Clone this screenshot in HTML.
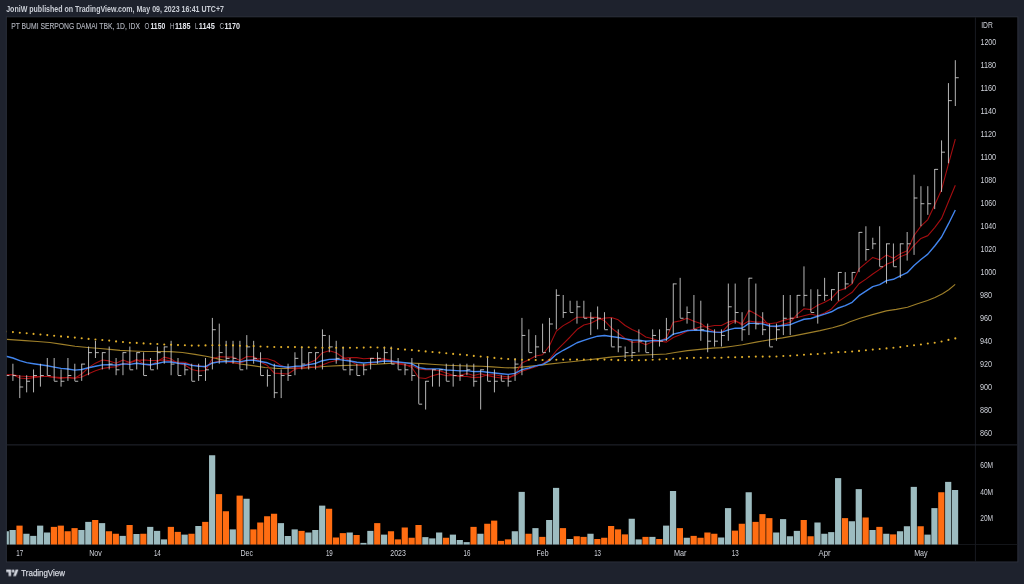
<!DOCTYPE html>
<html lang="en"><head><meta charset="utf-8"><title>BSDE chart</title>
<style>html,body{margin:0;padding:0;background:#1e222d;overflow:hidden}body{width:1024px;height:584px}</style></head>
<body>
<svg width="1024" height="584" viewBox="0 0 1024 584" style="display:block">
<rect width="1024" height="584" fill="#1e222d"/>
<rect x="6.3" y="16.8" width="1011.5500000000001" height="545.1500000000001" fill="#000" stroke="#2b2f3b" stroke-width="1"/>
<g fill="none">
<path d="M975.4 17.3V561.45" stroke="#1e2129" stroke-width="0.8"/>
<path d="M6.8 444.9H1017.35" stroke="#242730" stroke-width="1"/>
<path d="M6.8 544.5H1017.35" stroke="#181a20" stroke-width="0.8"/>
</g>
<defs><clipPath id="cp"><rect x="6.8" y="17.3" width="968.6" height="544.1500000000001"/></clipPath></defs>
<g clip-path="url(#cp)">
<g><rect x="2.67" y="531.25" width="6.2" height="13.25" fill="#9dbcc0"/><rect x="9.55" y="530.00" width="6.2" height="14.50" fill="#9dbcc0"/><rect x="16.43" y="525.62" width="6.2" height="18.88" fill="#ff6d12"/><rect x="23.31" y="533.75" width="6.2" height="10.75" fill="#9dbcc0"/><rect x="30.19" y="535.88" width="6.2" height="8.62" fill="#9dbcc0"/><rect x="37.07" y="525.62" width="6.2" height="18.88" fill="#9dbcc0"/><rect x="43.94" y="532.50" width="6.2" height="12.00" fill="#9dbcc0"/><rect x="50.82" y="526.88" width="6.2" height="17.62" fill="#ff6d12"/><rect x="57.70" y="525.62" width="6.2" height="18.88" fill="#ff6d12"/><rect x="64.58" y="531.25" width="6.2" height="13.25" fill="#ff6d12"/><rect x="71.46" y="528.12" width="6.2" height="16.38" fill="#ff6d12"/><rect x="78.34" y="530.00" width="6.2" height="14.50" fill="#9dbcc0"/><rect x="85.22" y="521.88" width="6.2" height="22.62" fill="#9dbcc0"/><rect x="92.10" y="520.00" width="6.2" height="24.50" fill="#ff6d12"/><rect x="98.98" y="523.12" width="6.2" height="21.38" fill="#9dbcc0"/><rect x="105.86" y="531.25" width="6.2" height="13.25" fill="#ff6d12"/><rect x="112.73" y="533.75" width="6.2" height="10.75" fill="#ff6d12"/><rect x="119.61" y="535.88" width="6.2" height="8.62" fill="#9dbcc0"/><rect x="126.49" y="525.00" width="6.2" height="19.50" fill="#ff6d12"/><rect x="133.37" y="534.00" width="6.2" height="10.50" fill="#9dbcc0"/><rect x="140.25" y="533.75" width="6.2" height="10.75" fill="#ff6d12"/><rect x="147.13" y="526.88" width="6.2" height="17.62" fill="#9dbcc0"/><rect x="154.01" y="530.88" width="6.2" height="13.62" fill="#9dbcc0"/><rect x="160.89" y="539.38" width="6.2" height="5.12" fill="#9dbcc0"/><rect x="167.77" y="526.88" width="6.2" height="17.62" fill="#ff6d12"/><rect x="174.65" y="531.88" width="6.2" height="12.62" fill="#ff6d12"/><rect x="181.53" y="534.62" width="6.2" height="9.88" fill="#9dbcc0"/><rect x="188.40" y="533.75" width="6.2" height="10.75" fill="#ff6d12"/><rect x="195.28" y="526.00" width="6.2" height="18.50" fill="#9dbcc0"/><rect x="202.16" y="521.88" width="6.2" height="22.62" fill="#ff6d12"/><rect x="209.04" y="455.25" width="6.2" height="89.25" fill="#9dbcc0"/><rect x="215.92" y="494.12" width="6.2" height="50.38" fill="#ff6d12"/><rect x="222.80" y="511.25" width="6.2" height="33.25" fill="#ff6d12"/><rect x="229.68" y="529.38" width="6.2" height="15.12" fill="#9dbcc0"/><rect x="236.56" y="495.62" width="6.2" height="48.88" fill="#ff6d12"/><rect x="243.44" y="498.75" width="6.2" height="45.75" fill="#9dbcc0"/><rect x="250.31" y="529.38" width="6.2" height="15.12" fill="#ff6d12"/><rect x="257.19" y="522.50" width="6.2" height="22.00" fill="#ff6d12"/><rect x="264.07" y="516.25" width="6.2" height="28.25" fill="#ff6d12"/><rect x="270.95" y="513.75" width="6.2" height="30.75" fill="#ff6d12"/><rect x="277.83" y="523.12" width="6.2" height="21.38" fill="#9dbcc0"/><rect x="284.71" y="536.00" width="6.2" height="8.50" fill="#9dbcc0"/><rect x="291.59" y="529.38" width="6.2" height="15.12" fill="#9dbcc0"/><rect x="298.47" y="530.88" width="6.2" height="13.62" fill="#ff6d12"/><rect x="305.35" y="532.50" width="6.2" height="12.00" fill="#9dbcc0"/><rect x="312.23" y="530.00" width="6.2" height="14.50" fill="#9dbcc0"/><rect x="319.10" y="505.62" width="6.2" height="38.88" fill="#9dbcc0"/><rect x="325.98" y="508.75" width="6.2" height="35.75" fill="#ff6d12"/><rect x="332.86" y="537.50" width="6.2" height="7.00" fill="#ff6d12"/><rect x="339.74" y="533.12" width="6.2" height="11.38" fill="#ff6d12"/><rect x="346.62" y="532.50" width="6.2" height="12.00" fill="#9dbcc0"/><rect x="353.50" y="535.00" width="6.2" height="9.50" fill="#ff6d12"/><rect x="360.38" y="542.88" width="6.2" height="1.62" fill="#9dbcc0"/><rect x="367.26" y="530.88" width="6.2" height="13.62" fill="#9dbcc0"/><rect x="374.14" y="523.12" width="6.2" height="21.38" fill="#ff6d12"/><rect x="381.02" y="534.62" width="6.2" height="9.88" fill="#9dbcc0"/><rect x="387.89" y="531.25" width="6.2" height="13.25" fill="#ff6d12"/><rect x="394.77" y="539.38" width="6.2" height="5.12" fill="#ff6d12"/><rect x="401.65" y="527.50" width="6.2" height="17.00" fill="#ff6d12"/><rect x="408.53" y="537.75" width="6.2" height="6.75" fill="#ff6d12"/><rect x="415.41" y="525.00" width="6.2" height="19.50" fill="#ff6d12"/><rect x="422.29" y="537.12" width="6.2" height="7.38" fill="#9dbcc0"/><rect x="429.17" y="538.38" width="6.2" height="6.12" fill="#9dbcc0"/><rect x="436.05" y="532.50" width="6.2" height="12.00" fill="#9dbcc0"/><rect x="442.93" y="537.75" width="6.2" height="6.75" fill="#ff6d12"/><rect x="449.81" y="534.62" width="6.2" height="9.88" fill="#9dbcc0"/><rect x="456.68" y="540.00" width="6.2" height="4.50" fill="#9dbcc0"/><rect x="463.56" y="542.12" width="6.2" height="2.38" fill="#9dbcc0"/><rect x="470.44" y="526.88" width="6.2" height="17.62" fill="#ff6d12"/><rect x="477.32" y="533.75" width="6.2" height="10.75" fill="#9dbcc0"/><rect x="484.20" y="523.75" width="6.2" height="20.75" fill="#ff6d12"/><rect x="491.08" y="520.62" width="6.2" height="23.88" fill="#ff6d12"/><rect x="497.96" y="540.88" width="6.2" height="3.62" fill="#ff6d12"/><rect x="504.84" y="539.38" width="6.2" height="5.12" fill="#ff6d12"/><rect x="511.72" y="531.25" width="6.2" height="13.25" fill="#9dbcc0"/><rect x="518.60" y="491.88" width="6.2" height="52.62" fill="#9dbcc0"/><rect x="525.47" y="533.75" width="6.2" height="10.75" fill="#ff6d12"/><rect x="532.35" y="528.12" width="6.2" height="16.38" fill="#9dbcc0"/><rect x="539.23" y="536.88" width="6.2" height="7.62" fill="#ff6d12"/><rect x="546.11" y="520.00" width="6.2" height="24.50" fill="#9dbcc0"/><rect x="552.99" y="487.88" width="6.2" height="56.62" fill="#9dbcc0"/><rect x="559.87" y="528.12" width="6.2" height="16.38" fill="#ff6d12"/><rect x="566.75" y="539.00" width="6.2" height="5.50" fill="#9dbcc0"/><rect x="573.63" y="536.25" width="6.2" height="8.25" fill="#ff6d12"/><rect x="580.51" y="536.88" width="6.2" height="7.62" fill="#ff6d12"/><rect x="587.39" y="533.75" width="6.2" height="10.75" fill="#9dbcc0"/><rect x="594.26" y="539.00" width="6.2" height="5.50" fill="#ff6d12"/><rect x="601.14" y="537.75" width="6.2" height="6.75" fill="#ff6d12"/><rect x="608.02" y="526.00" width="6.2" height="18.50" fill="#ff6d12"/><rect x="614.90" y="529.38" width="6.2" height="15.12" fill="#ff6d12"/><rect x="621.78" y="534.38" width="6.2" height="10.12" fill="#ff6d12"/><rect x="628.66" y="518.75" width="6.2" height="25.75" fill="#9dbcc0"/><rect x="635.54" y="539.38" width="6.2" height="5.12" fill="#9dbcc0"/><rect x="642.42" y="536.88" width="6.2" height="7.62" fill="#ff6d12"/><rect x="649.30" y="536.88" width="6.2" height="7.62" fill="#9dbcc0"/><rect x="656.18" y="539.00" width="6.2" height="5.50" fill="#ff6d12"/><rect x="663.05" y="525.62" width="6.2" height="18.88" fill="#9dbcc0"/><rect x="669.93" y="491.00" width="6.2" height="53.50" fill="#9dbcc0"/><rect x="676.81" y="528.12" width="6.2" height="16.38" fill="#ff6d12"/><rect x="683.69" y="537.75" width="6.2" height="6.75" fill="#9dbcc0"/><rect x="690.57" y="535.88" width="6.2" height="8.62" fill="#ff6d12"/><rect x="697.45" y="537.75" width="6.2" height="6.75" fill="#ff6d12"/><rect x="704.33" y="532.50" width="6.2" height="12.00" fill="#ff6d12"/><rect x="711.21" y="533.75" width="6.2" height="10.75" fill="#ff6d12"/><rect x="718.09" y="537.50" width="6.2" height="7.00" fill="#9dbcc0"/><rect x="724.97" y="508.12" width="6.2" height="36.38" fill="#9dbcc0"/><rect x="731.84" y="530.62" width="6.2" height="13.88" fill="#ff6d12"/><rect x="738.72" y="523.75" width="6.2" height="20.75" fill="#ff6d12"/><rect x="745.60" y="492.25" width="6.2" height="52.25" fill="#9dbcc0"/><rect x="752.48" y="521.88" width="6.2" height="22.62" fill="#ff6d12"/><rect x="759.36" y="514.12" width="6.2" height="30.38" fill="#ff6d12"/><rect x="766.24" y="518.12" width="6.2" height="26.38" fill="#ff6d12"/><rect x="773.12" y="532.50" width="6.2" height="12.00" fill="#9dbcc0"/><rect x="780.00" y="519.12" width="6.2" height="25.38" fill="#9dbcc0"/><rect x="786.88" y="536.25" width="6.2" height="8.25" fill="#9dbcc0"/><rect x="793.76" y="530.88" width="6.2" height="13.62" fill="#9dbcc0"/><rect x="800.63" y="520.00" width="6.2" height="24.50" fill="#ff6d12"/><rect x="807.51" y="536.25" width="6.2" height="8.25" fill="#ff6d12"/><rect x="814.39" y="522.50" width="6.2" height="22.00" fill="#9dbcc0"/><rect x="821.27" y="533.75" width="6.2" height="10.75" fill="#9dbcc0"/><rect x="828.15" y="532.12" width="6.2" height="12.38" fill="#9dbcc0"/><rect x="835.03" y="478.12" width="6.2" height="66.38" fill="#9dbcc0"/><rect x="841.91" y="518.12" width="6.2" height="26.38" fill="#ff6d12"/><rect x="848.79" y="521.25" width="6.2" height="23.25" fill="#9dbcc0"/><rect x="855.67" y="489.12" width="6.2" height="55.38" fill="#9dbcc0"/><rect x="862.55" y="517.50" width="6.2" height="27.00" fill="#ff6d12"/><rect x="869.42" y="530.00" width="6.2" height="14.50" fill="#9dbcc0"/><rect x="876.30" y="526.88" width="6.2" height="17.62" fill="#ff6d12"/><rect x="883.18" y="533.75" width="6.2" height="10.75" fill="#9dbcc0"/><rect x="890.06" y="534.38" width="6.2" height="10.12" fill="#ff6d12"/><rect x="896.94" y="531.25" width="6.2" height="13.25" fill="#9dbcc0"/><rect x="903.82" y="526.25" width="6.2" height="18.25" fill="#9dbcc0"/><rect x="910.70" y="486.88" width="6.2" height="57.62" fill="#9dbcc0"/><rect x="917.58" y="526.25" width="6.2" height="18.25" fill="#ff6d12"/><rect x="924.46" y="534.62" width="6.2" height="9.88" fill="#9dbcc0"/><rect x="931.34" y="508.12" width="6.2" height="36.38" fill="#9dbcc0"/><rect x="938.21" y="492.25" width="6.2" height="52.25" fill="#ff6d12"/><rect x="945.09" y="481.88" width="6.2" height="62.62" fill="#9dbcc0"/><rect x="951.97" y="490.00" width="6.2" height="54.50" fill="#9dbcc0"/></g>
<path d="M6.90 339.40 L25.00 340.60 L37.50 341.50 L50.00 342.50 L62.50 344.40 L75.00 346.25 L87.50 347.50 L100.00 348.50 L112.50 349.60 L120.00 350.40 L132.50 351.00 L145.00 351.50 L157.50 351.50 L170.00 351.60 L182.50 352.50 L195.00 354.40 L207.50 356.50 L220.00 359.40 L232.50 362.25 L240.00 364.00 L252.50 365.60 L265.00 367.50 L277.50 368.50 L290.00 368.50 L302.50 368.10 L315.00 367.25 L327.50 366.25 L340.00 365.60 L352.50 365.30 L362.00 365.00 L372.50 364.50 L385.00 363.60 L397.50 363.00 L410.00 363.00 L422.50 363.60 L435.00 364.50 L447.50 365.25 L460.00 365.75 L472.50 366.10 L482.00 366.30 L492.50 366.90 L505.00 367.75 L513.75 367.90 L523.75 366.90 L536.25 365.60 L548.75 364.10 L561.25 362.75 L573.75 361.50 L586.25 360.00 L598.75 358.60 L612.50 356.90 L625.00 356.00 L637.50 355.25 L650.00 354.75 L666.25 354.00 L675.00 352.50 L687.50 350.60 L700.00 349.40 L712.50 348.10 L722.00 347.60 L732.50 346.25 L742.50 344.75 L757.50 341.90 L770.00 339.75 L782.50 337.90 L795.00 335.60 L807.50 333.10 L820.00 330.60 L832.50 327.75 L842.50 324.90 L850.00 321.80 L860.00 318.30 L872.50 314.60 L886.25 310.90 L896.25 309.40 L907.50 307.25 L917.50 303.75 L927.50 300.60 L935.00 297.50 L942.50 293.75 L948.75 289.75 L955.20 284.40" stroke="#9e7f29" stroke-width="1.1" fill="none" stroke-linejoin="round"/>
<path d="M6.02 374.79 L12.90 374.79 L19.78 375.93 L26.66 376.50 L33.54 376.50 L40.42 376.50 L47.29 376.50 L54.17 377.08 L61.05 377.65 L67.93 377.65 L74.81 378.22 L81.69 377.08 L88.57 373.64 L95.45 370.78 L102.33 368.49 L109.21 367.34 L116.08 366.77 L122.96 363.90 L129.84 362.76 L136.72 360.47 L143.60 359.89 L150.48 360.47 L157.36 360.47 L164.24 359.89 L171.12 361.04 L178.00 362.19 L184.88 362.19 L191.75 365.05 L198.63 365.62 L205.51 367.34 L212.39 362.76 L219.27 361.04 L226.15 361.61 L233.03 362.76 L239.91 363.33 L246.79 360.47 L253.66 359.32 L260.54 358.75 L267.42 358.75 L274.30 361.04 L281.18 365.62 L288.06 367.91 L294.94 367.91 L301.82 368.49 L308.70 366.77 L315.58 367.34 L322.45 365.05 L329.33 362.19 L336.21 360.47 L343.09 358.18 L349.97 357.60 L356.85 357.60 L363.73 358.75 L370.61 358.18 L377.49 358.75 L384.37 358.75 L391.24 361.61 L398.12 363.90 L405.00 365.05 L411.88 365.62 L418.76 369.06 L425.64 369.63 L432.52 369.63 L439.40 370.78 L446.28 373.07 L453.16 375.36 L460.03 376.50 L466.91 376.50 L473.79 377.65 L480.67 377.08 L487.55 374.79 L494.43 374.79 L501.31 375.93 L508.19 377.08 L515.07 375.36 L521.95 371.35 L528.82 369.06 L535.70 366.77 L542.58 363.90 L549.46 359.32 L556.34 350.73 L563.22 343.86 L570.10 336.99 L576.98 329.54 L583.86 324.96 L590.74 323.24 L597.61 319.81 L604.49 318.09 L611.37 317.51 L618.25 319.81 L625.13 325.53 L632.01 329.54 L638.89 332.41 L645.77 336.99 L652.65 338.70 L659.53 341.00 L666.40 342.14 L673.28 337.56 L680.16 334.70 L687.04 331.26 L693.92 328.97 L700.80 326.68 L707.68 326.68 L714.56 325.53 L721.44 325.53 L728.32 322.10 L735.19 320.38 L742.07 324.96 L748.95 320.95 L755.83 322.10 L762.71 322.10 L769.59 323.81 L776.47 322.67 L783.35 320.38 L790.23 318.66 L797.11 317.51 L803.98 315.80 L810.86 314.08 L817.74 315.80 L824.62 312.93 L831.50 308.92 L838.38 301.48 L845.26 296.90 L852.14 292.32 L859.02 283.73 L865.90 279.14 L872.77 273.99 L879.65 269.41 L886.53 264.25 L893.41 261.39 L900.29 256.81 L907.17 253.95 L914.05 245.35 L920.93 238.48 L927.81 235.62 L934.69 227.60 L941.56 218.44 L948.44 201.83 L955.32 185.22" stroke="#a40d10" stroke-width="1.1" fill="none" stroke-linejoin="round"/>
<path d="M6.02 374.79 L12.90 374.79 L19.78 378.06 L26.66 378.76 L33.54 377.62 L40.42 376.81 L47.29 376.23 L54.17 377.46 L61.05 378.33 L67.93 377.32 L74.81 378.23 L81.69 373.97 L88.57 367.66 L95.45 363.15 L102.33 359.93 L109.21 360.90 L116.08 363.23 L122.96 359.99 L129.84 362.58 L136.72 359.52 L143.60 363.88 L150.48 365.36 L157.36 361.51 L164.24 357.12 L171.12 358.89 L178.00 363.43 L184.88 365.04 L191.75 369.46 L198.63 370.98 L205.51 370.43 L212.39 358.59 L219.27 356.67 L226.15 356.94 L233.03 357.13 L239.91 360.54 L246.79 356.43 L253.66 356.76 L260.54 361.91 L267.42 365.59 L274.30 373.13 L281.18 373.60 L288.06 373.94 L294.94 369.27 L301.82 367.57 L308.70 363.09 L315.58 359.89 L322.45 352.69 L329.33 350.82 L336.21 352.76 L343.09 357.42 L349.97 360.74 L356.85 364.75 L363.73 365.98 L370.61 363.59 L377.49 361.88 L384.37 359.02 L391.24 360.25 L398.12 362.77 L405.00 364.57 L411.88 367.49 L418.76 377.75 L425.64 378.54 L432.52 375.83 L439.40 373.90 L446.28 375.79 L453.16 375.50 L460.03 375.30 L466.91 373.51 L473.79 375.51 L480.67 373.67 L487.55 375.62 L494.43 377.02 L501.31 378.02 L508.19 378.73 L515.07 374.33 L521.95 363.01 L528.82 359.83 L535.70 355.92 L542.58 354.76 L549.46 345.76 L556.34 331.14 L563.22 325.61 L570.10 321.66 L576.98 317.21 L583.86 317.29 L590.74 317.36 L597.61 317.40 L604.49 320.71 L611.37 327.98 L618.25 333.17 L625.13 338.51 L632.01 342.33 L638.89 341.79 L645.77 344.67 L652.65 341.82 L659.53 341.42 L666.40 337.86 L673.28 322.23 L680.16 320.88 L687.04 318.29 L693.92 321.34 L700.80 323.52 L707.68 328.35 L714.56 331.80 L721.44 332.63 L728.32 325.04 L735.19 321.25 L742.07 323.46 L748.95 310.30 L755.83 314.00 L762.71 318.28 L769.59 326.24 L776.47 327.02 L783.35 324.30 L790.23 322.36 L797.11 314.43 L803.98 308.77 L810.86 309.63 L817.74 305.34 L824.62 302.27 L831.50 298.45 L838.38 290.80 L845.26 288.62 L852.14 283.78 L859.02 268.88 L865.90 263.14 L872.77 257.40 L879.65 259.85 L886.53 255.05 L893.41 258.17 L900.29 253.86 L907.17 250.77 L914.05 235.48 L920.93 226.19 L927.81 219.56 L934.69 205.00 L941.56 189.70 L948.44 164.04 L955.32 139.16" stroke="#a40d10" stroke-width="1.1" fill="none" stroke-linejoin="round"/>
<path d="M6.02 356.23 L12.90 358.00 L19.78 360.69 L26.66 362.57 L33.54 363.74 L40.42 364.79 L47.29 365.74 L54.17 367.15 L61.05 368.42 L67.93 369.03 L74.81 370.12 L81.69 369.47 L88.57 367.80 L95.45 366.28 L102.33 364.91 L109.21 364.76 L116.08 365.17 L122.96 363.90 L129.84 364.39 L136.72 363.20 L143.60 364.31 L150.48 364.76 L157.36 363.53 L164.24 361.88 L171.12 362.01 L178.00 363.23 L184.88 363.79 L191.75 365.38 L198.63 366.27 L205.51 366.54 L212.39 362.96 L219.27 361.91 L226.15 361.50 L233.03 361.13 L239.91 361.88 L246.79 360.38 L253.66 360.12 L260.54 361.51 L267.42 362.78 L274.30 365.56 L281.18 366.44 L288.06 367.23 L294.94 366.32 L301.82 366.03 L308.70 364.68 L315.58 363.46 L322.45 360.72 L329.33 359.34 L336.21 359.17 L343.09 360.11 L349.97 360.96 L356.85 362.28 L363.73 362.93 L370.61 362.42 L377.49 361.96 L384.37 361.00 L391.24 361.22 L398.12 361.97 L405.00 362.64 L411.88 363.80 L418.76 367.57 L425.64 368.81 L432.52 368.83 L439.40 368.85 L446.28 369.96 L453.16 370.42 L460.03 370.84 L466.91 370.67 L473.79 371.61 L480.67 371.36 L487.55 372.23 L494.43 373.02 L501.31 373.74 L508.19 374.38 L515.07 373.33 L521.95 369.65 L528.82 367.96 L535.70 365.88 L542.58 364.55 L549.46 360.61 L556.34 354.33 L563.22 350.27 L570.10 346.61 L576.98 342.75 L583.86 340.34 L590.74 338.17 L597.61 336.20 L604.49 335.51 L611.37 336.53 L618.25 337.44 L625.13 338.82 L632.01 340.06 L638.89 340.10 L645.77 341.22 L652.65 340.60 L659.53 340.58 L666.40 339.47 L673.28 334.11 L680.16 332.53 L687.04 330.55 L693.92 330.40 L700.80 330.27 L707.68 331.23 L714.56 332.11 L721.44 332.36 L728.32 329.85 L735.19 328.13 L742.07 328.21 L748.95 323.37 L755.83 323.36 L762.71 323.90 L769.59 326.02 L776.47 326.30 L783.35 325.46 L790.23 324.70 L797.11 321.84 L803.98 319.24 L810.86 318.53 L817.74 316.25 L824.62 314.19 L831.50 311.78 L838.38 307.97 L845.26 305.60 L852.14 302.37 L859.02 295.63 L865.90 291.17 L872.77 286.59 L879.65 284.63 L886.53 280.67 L893.41 279.27 L900.29 275.82 L907.17 272.70 L914.05 265.52 L920.93 259.56 L927.81 254.17 L934.69 246.02 L941.56 237.01 L948.44 223.95 L955.32 209.96" stroke="#4285ee" stroke-width="1.4" fill="none" stroke-linejoin="round"/>
<path d="M6.02 375.54h3.4M12.90 363.73V380.91M12.90 375.54h3.4M19.78 375.19V398.09M19.78 386.99h3.4M26.66 375.19V392.37M26.66 381.26h3.4M33.54 369.46V392.37M33.54 375.54h3.4M40.42 363.73V386.64M40.42 375.54h3.4M47.29 358.00V375.19M47.29 375.54h3.4M54.17 358.00V380.91M54.17 381.26h3.4M61.05 369.46V386.64M61.05 381.26h3.4M67.93 358.00V380.91M67.93 375.54h3.4M74.81 363.73V380.91M74.81 381.26h3.4M81.69 363.73V380.91M81.69 364.08h3.4M88.57 346.55V375.19M88.57 352.63h3.4M95.45 340.82V358.00M95.45 352.63h3.4M102.33 352.28V369.46M102.33 352.63h3.4M109.21 346.55V369.46M109.21 364.08h3.4M116.08 358.00V375.19M116.08 369.81h3.4M122.96 352.28V375.19M122.96 352.63h3.4M129.84 346.55V369.46M129.84 369.81h3.4M136.72 352.28V369.46M136.72 352.63h3.4M143.60 352.28V375.19M143.60 375.54h3.4M150.48 358.00V369.46M150.48 369.81h3.4M157.36 346.55V369.46M157.36 352.63h3.4M164.24 346.55V363.73M164.24 346.90h3.4M171.12 340.82V375.19M171.12 364.08h3.4M178.00 358.00V375.19M178.00 375.54h3.4M184.88 363.73V375.19M184.88 369.81h3.4M191.75 363.73V380.91M191.75 381.26h3.4M198.63 363.73V380.91M198.63 375.54h3.4M205.51 358.00V380.91M205.51 369.81h3.4M212.39 317.91V369.46M212.39 329.72h3.4M219.27 323.64V363.73M219.27 352.63h3.4M226.15 340.82V363.73M226.15 358.35h3.4M233.03 340.82V363.73M233.03 358.35h3.4M239.91 340.82V369.46M239.91 369.81h3.4M246.79 335.10V369.46M246.79 346.90h3.4M253.66 340.82V363.73M253.66 358.35h3.4M260.54 352.28V375.19M260.54 375.54h3.4M267.42 369.46V386.64M267.42 375.54h3.4M274.30 363.73V398.09M274.30 392.72h3.4M281.18 369.46V398.09M281.18 375.54h3.4M288.06 363.73V380.91M288.06 375.54h3.4M294.94 352.28V375.19M294.94 358.35h3.4M301.82 346.55V369.46M301.82 364.08h3.4M308.70 352.28V369.46M308.70 352.63h3.4M315.58 352.28V369.46M315.58 352.63h3.4M322.45 329.37V369.46M322.45 335.45h3.4M329.33 335.10V352.28M329.33 346.90h3.4M336.21 340.82V363.73M336.21 358.35h3.4M343.09 346.55V369.46M343.09 369.81h3.4M349.97 358.00V375.19M349.97 369.81h3.4M356.85 363.73V375.19M356.85 375.54h3.4M363.73 363.73V375.19M363.73 369.81h3.4M370.61 358.00V369.46M370.61 358.35h3.4M377.49 352.28V363.73M377.49 358.35h3.4M384.37 346.55V363.73M384.37 352.63h3.4M391.24 346.55V363.73M391.24 364.08h3.4M398.12 358.00V369.46M398.12 369.81h3.4M405.00 363.73V375.19M405.00 369.81h3.4M411.88 358.00V380.91M411.88 375.54h3.4M418.76 363.73V403.82M418.76 404.17h3.4M425.64 380.91V409.55M425.64 381.26h3.4M432.52 369.46V386.64M432.52 369.81h3.4M439.40 369.46V386.64M439.40 369.81h3.4M446.28 363.73V380.91M446.28 381.26h3.4M453.16 363.73V386.64M453.16 375.54h3.4M460.03 363.73V380.91M460.03 375.54h3.4M466.91 363.73V375.19M466.91 369.81h3.4M473.79 363.73V386.64M473.79 381.26h3.4M480.67 369.46V409.55M480.67 369.81h3.4M487.55 358.00V380.91M487.55 381.26h3.4M494.43 369.46V392.37M494.43 381.26h3.4M501.31 375.19V380.91M501.31 381.26h3.4M508.19 375.19V386.64M508.19 381.26h3.4M515.07 358.00V380.91M515.07 364.08h3.4M521.95 317.91V375.19M521.95 335.45h3.4M528.82 329.37V352.28M528.82 352.63h3.4M535.70 335.10V358.00M535.70 346.90h3.4M542.58 323.64V352.28M542.58 352.63h3.4M549.46 317.91V352.28M549.46 323.99h3.4M556.34 289.28V329.37M556.34 295.36h3.4M563.22 295.01V317.91M563.22 312.54h3.4M570.10 300.73V312.19M570.10 312.54h3.4M576.98 300.73V323.64M576.98 306.81h3.4M583.86 300.73V317.91M583.86 318.26h3.4M590.74 312.19V335.10M590.74 318.26h3.4M597.61 306.46V329.37M597.61 318.26h3.4M604.49 312.19V329.37M604.49 329.72h3.4M611.37 317.91V346.55M611.37 346.90h3.4M618.25 329.37V352.28M618.25 346.90h3.4M625.13 346.55V358.00M625.13 352.63h3.4M632.01 340.82V358.00M632.01 352.63h3.4M638.89 329.37V352.28M638.89 341.17h3.4M645.77 340.82V352.28M645.77 352.63h3.4M652.65 329.37V358.00M652.65 335.45h3.4M659.53 329.37V346.55M659.53 341.17h3.4M666.40 317.91V340.82M666.40 329.72h3.4M673.28 283.55V335.10M673.28 283.90h3.4M680.16 277.83V317.91M680.16 318.26h3.4M687.04 306.46V323.64M687.04 312.54h3.4M693.92 295.01V329.37M693.92 329.72h3.4M700.80 300.73V340.82M700.80 329.72h3.4M707.68 323.64V352.28M707.68 341.17h3.4M714.56 329.37V346.55M714.56 341.17h3.4M721.44 329.37V346.55M721.44 335.45h3.4M728.32 283.55V340.82M728.32 306.81h3.4M735.19 283.55V323.64M735.19 312.54h3.4M742.07 312.19V340.82M742.07 329.72h3.4M748.95 277.83V335.10M748.95 278.18h3.4M755.83 283.55V329.37M755.83 323.99h3.4M762.71 312.19V335.10M762.71 329.72h3.4M769.59 323.64V346.55M769.59 346.90h3.4M776.47 323.64V340.82M776.47 329.72h3.4M783.35 295.01V335.10M783.35 318.26h3.4M790.23 295.01V335.10M790.23 318.26h3.4M797.11 295.01V317.91M797.11 295.36h3.4M803.98 266.37V306.46M803.98 295.36h3.4M810.86 289.28V312.19M810.86 312.54h3.4M817.74 289.28V323.64M817.74 295.36h3.4M824.62 277.83V300.73M824.62 295.36h3.4M831.50 289.28V300.73M831.50 289.63h3.4M838.38 272.10V300.73M838.38 272.45h3.4M845.26 272.10V289.28M845.26 283.90h3.4M852.14 272.10V283.55M852.14 272.45h3.4M859.02 232.01V272.10M859.02 232.36h3.4M865.90 226.28V260.64M865.90 249.54h3.4M872.77 237.74V249.19M872.77 243.81h3.4M879.65 226.28V266.37M879.65 266.72h3.4M886.53 243.46V283.55M886.53 243.81h3.4M893.41 243.46V266.37M893.41 266.72h3.4M900.29 243.46V277.83M900.29 243.81h3.4M907.17 232.01V260.64M907.17 243.81h3.4M914.05 174.74V254.92M914.05 198.00h3.4M920.93 186.19V226.28M920.93 203.72h3.4M927.81 186.19V214.83M927.81 203.72h3.4M934.69 169.01V209.10M934.69 169.36h3.4M941.56 140.38V191.92M941.56 152.18h3.4M948.44 83.11V163.29M948.44 100.64h3.4M955.32 60.20V106.02M955.32 77.73h3.4" stroke="#d6d6d6" stroke-width="0.85" fill="none"/>
<g fill="#e3b02b"><circle cx="6.02" cy="331.50" r="1.05"/><circle cx="12.90" cy="332.10" r="1.05"/><circle cx="19.78" cy="332.75" r="1.05"/><circle cx="26.66" cy="333.25" r="1.05"/><circle cx="33.54" cy="333.90" r="1.05"/><circle cx="40.42" cy="334.50" r="1.05"/><circle cx="47.29" cy="335.10" r="1.05"/><circle cx="54.17" cy="335.75" r="1.05"/><circle cx="61.05" cy="336.40" r="1.05"/><circle cx="67.93" cy="336.90" r="1.05"/><circle cx="74.81" cy="337.60" r="1.05"/><circle cx="81.69" cy="338.25" r="1.05"/><circle cx="88.57" cy="338.90" r="1.05"/><circle cx="95.45" cy="339.50" r="1.05"/><circle cx="102.33" cy="340.00" r="1.05"/><circle cx="109.21" cy="340.60" r="1.05"/><circle cx="116.08" cy="341.40" r="1.05"/><circle cx="122.96" cy="342.05" r="1.05"/><circle cx="129.84" cy="342.75" r="1.05"/><circle cx="136.72" cy="342.90" r="1.05"/><circle cx="143.60" cy="343.40" r="1.05"/><circle cx="150.48" cy="343.75" r="1.05"/><circle cx="157.36" cy="344.00" r="1.05"/><circle cx="164.24" cy="344.50" r="1.05"/><circle cx="171.12" cy="344.75" r="1.05"/><circle cx="178.00" cy="345.10" r="1.05"/><circle cx="184.88" cy="345.25" r="1.05"/><circle cx="191.75" cy="345.60" r="1.05"/><circle cx="198.63" cy="345.60" r="1.05"/><circle cx="205.51" cy="345.40" r="1.05"/><circle cx="212.39" cy="345.30" r="1.05"/><circle cx="219.27" cy="345.30" r="1.05"/><circle cx="226.15" cy="345.30" r="1.05"/><circle cx="233.03" cy="345.40" r="1.05"/><circle cx="239.91" cy="345.70" r="1.05"/><circle cx="246.79" cy="345.95" r="1.05"/><circle cx="253.66" cy="346.10" r="1.05"/><circle cx="260.54" cy="346.50" r="1.05"/><circle cx="267.42" cy="346.70" r="1.05"/><circle cx="274.30" cy="347.00" r="1.05"/><circle cx="281.18" cy="347.10" r="1.05"/><circle cx="288.06" cy="347.10" r="1.05"/><circle cx="294.94" cy="347.10" r="1.05"/><circle cx="301.82" cy="347.20" r="1.05"/><circle cx="308.70" cy="347.30" r="1.05"/><circle cx="315.58" cy="347.60" r="1.05"/><circle cx="322.45" cy="347.75" r="1.05"/><circle cx="329.33" cy="347.75" r="1.05"/><circle cx="336.21" cy="347.75" r="1.05"/><circle cx="343.09" cy="347.75" r="1.05"/><circle cx="349.97" cy="347.75" r="1.05"/><circle cx="356.85" cy="347.70" r="1.05"/><circle cx="363.73" cy="347.60" r="1.05"/><circle cx="370.61" cy="347.30" r="1.05"/><circle cx="377.49" cy="347.50" r="1.05"/><circle cx="384.37" cy="347.70" r="1.05"/><circle cx="391.24" cy="348.25" r="1.05"/><circle cx="398.12" cy="349.00" r="1.05"/><circle cx="405.00" cy="349.60" r="1.05"/><circle cx="411.88" cy="350.10" r="1.05"/><circle cx="418.76" cy="350.75" r="1.05"/><circle cx="425.64" cy="351.40" r="1.05"/><circle cx="432.52" cy="352.00" r="1.05"/><circle cx="439.40" cy="352.60" r="1.05"/><circle cx="446.28" cy="353.25" r="1.05"/><circle cx="453.16" cy="353.90" r="1.05"/><circle cx="460.03" cy="354.50" r="1.05"/><circle cx="466.91" cy="355.10" r="1.05"/><circle cx="473.79" cy="355.90" r="1.05"/><circle cx="480.67" cy="356.50" r="1.05"/><circle cx="487.55" cy="357.10" r="1.05"/><circle cx="494.43" cy="357.90" r="1.05"/><circle cx="501.31" cy="358.50" r="1.05"/><circle cx="508.19" cy="359.00" r="1.05"/><circle cx="515.07" cy="359.50" r="1.05"/><circle cx="521.95" cy="359.70" r="1.05"/><circle cx="528.82" cy="359.80" r="1.05"/><circle cx="535.70" cy="360.00" r="1.05"/><circle cx="542.58" cy="360.00" r="1.05"/><circle cx="549.46" cy="359.90" r="1.05"/><circle cx="556.34" cy="359.70" r="1.05"/><circle cx="563.22" cy="359.60" r="1.05"/><circle cx="570.10" cy="359.60" r="1.05"/><circle cx="576.98" cy="359.60" r="1.05"/><circle cx="583.86" cy="359.60" r="1.05"/><circle cx="590.74" cy="359.60" r="1.05"/><circle cx="597.61" cy="359.60" r="1.05"/><circle cx="604.49" cy="359.60" r="1.05"/><circle cx="611.37" cy="359.80" r="1.05"/><circle cx="618.25" cy="360.15" r="1.05"/><circle cx="625.13" cy="360.25" r="1.05"/><circle cx="632.01" cy="360.25" r="1.05"/><circle cx="638.89" cy="360.25" r="1.05"/><circle cx="645.77" cy="360.10" r="1.05"/><circle cx="652.65" cy="359.70" r="1.05"/><circle cx="659.53" cy="359.50" r="1.05"/><circle cx="666.40" cy="359.00" r="1.05"/><circle cx="673.28" cy="358.75" r="1.05"/><circle cx="680.16" cy="358.40" r="1.05"/><circle cx="687.04" cy="358.10" r="1.05"/><circle cx="693.92" cy="357.85" r="1.05"/><circle cx="700.80" cy="357.75" r="1.05"/><circle cx="707.68" cy="357.75" r="1.05"/><circle cx="714.56" cy="357.75" r="1.05"/><circle cx="721.44" cy="357.70" r="1.05"/><circle cx="728.32" cy="357.30" r="1.05"/><circle cx="735.19" cy="357.25" r="1.05"/><circle cx="742.07" cy="357.10" r="1.05"/><circle cx="748.95" cy="356.70" r="1.05"/><circle cx="755.83" cy="356.60" r="1.05"/><circle cx="762.71" cy="356.60" r="1.05"/><circle cx="769.59" cy="356.60" r="1.05"/><circle cx="776.47" cy="356.50" r="1.05"/><circle cx="783.35" cy="356.00" r="1.05"/><circle cx="790.23" cy="355.80" r="1.05"/><circle cx="797.11" cy="355.25" r="1.05"/><circle cx="803.98" cy="354.75" r="1.05"/><circle cx="810.86" cy="354.20" r="1.05"/><circle cx="817.74" cy="354.00" r="1.05"/><circle cx="824.62" cy="353.50" r="1.05"/><circle cx="831.50" cy="352.80" r="1.05"/><circle cx="838.38" cy="352.15" r="1.05"/><circle cx="845.26" cy="352.00" r="1.05"/><circle cx="852.14" cy="351.50" r="1.05"/><circle cx="859.02" cy="350.90" r="1.05"/><circle cx="865.90" cy="350.25" r="1.05"/><circle cx="872.77" cy="349.60" r="1.05"/><circle cx="879.65" cy="349.00" r="1.05"/><circle cx="886.53" cy="348.40" r="1.05"/><circle cx="893.41" cy="347.75" r="1.05"/><circle cx="900.29" cy="347.10" r="1.05"/><circle cx="907.17" cy="346.00" r="1.05"/><circle cx="914.05" cy="345.25" r="1.05"/><circle cx="920.93" cy="344.50" r="1.05"/><circle cx="927.81" cy="343.50" r="1.05"/><circle cx="934.69" cy="342.70" r="1.05"/><circle cx="941.56" cy="341.50" r="1.05"/><circle cx="948.44" cy="339.90" r="1.05"/><circle cx="955.32" cy="338.40" r="1.05"/></g>
</g>
<g font-family="'Liberation Sans', Arial, sans-serif" style="will-change:opacity;opacity:0.999">
<text x="6.2" y="12.15" font-size="8.3" font-weight="bold" fill="#ccd0d8" text-anchor="start" textLength="217.8" lengthAdjust="spacingAndGlyphs">JoniW published on TradingView.com, May 09, 2023 16:41 UTC+7</text>
<text stroke="#b4b7c0" stroke-width="0.12" x="11.2" y="28.8" font-size="8.6" font-weight="normal" fill="#b4b7c0" text-anchor="start" textLength="128.8" lengthAdjust="spacingAndGlyphs">PT BUMI SERPONG DAMAI TBK, 1D, IDX</text>
<text x="144.5" y="28.8" font-size="8.6" font-weight="normal" fill="#b4b7c0" text-anchor="start" textLength="4.8" lengthAdjust="spacingAndGlyphs">O</text>
<text x="150.4" y="28.8" font-size="8.6" font-weight="bold" fill="#e4e6ec" text-anchor="start" textLength="14.9" lengthAdjust="spacingAndGlyphs">1150</text>
<text x="170" y="28.8" font-size="8.6" font-weight="normal" fill="#b4b7c0" text-anchor="start" textLength="4.5" lengthAdjust="spacingAndGlyphs">H</text>
<text x="175" y="28.8" font-size="8.6" font-weight="bold" fill="#e4e6ec" text-anchor="start" textLength="15.6" lengthAdjust="spacingAndGlyphs">1185</text>
<text x="195" y="28.8" font-size="8.6" font-weight="normal" fill="#b4b7c0" text-anchor="start" textLength="3.3" lengthAdjust="spacingAndGlyphs">L</text>
<text x="198.75" y="28.8" font-size="8.6" font-weight="bold" fill="#e4e6ec" text-anchor="start" textLength="16" lengthAdjust="spacingAndGlyphs">1145</text>
<text x="219.4" y="28.8" font-size="8.6" font-weight="normal" fill="#b4b7c0" text-anchor="start" textLength="4.6" lengthAdjust="spacingAndGlyphs">C</text>
<text x="224.4" y="28.8" font-size="8.6" font-weight="bold" fill="#e4e6ec" text-anchor="start" textLength="15.6" lengthAdjust="spacingAndGlyphs">1170</text>
<text x="981.2" y="28.1" font-size="8.6" font-weight="normal" fill="#d0d3db" text-anchor="start" textLength="11.6" lengthAdjust="spacingAndGlyphs">IDR</text>
<text x="979.9" y="436.1" font-size="8.6" font-weight="normal" fill="#d0d3db" text-anchor="start" textLength="12.1" lengthAdjust="spacingAndGlyphs">860</text>
<text x="979.9" y="413.1" font-size="8.6" font-weight="normal" fill="#d0d3db" text-anchor="start" textLength="12.1" lengthAdjust="spacingAndGlyphs">880</text>
<text x="979.9" y="390.1" font-size="8.6" font-weight="normal" fill="#d0d3db" text-anchor="start" textLength="12.1" lengthAdjust="spacingAndGlyphs">900</text>
<text x="979.9" y="367.1" font-size="8.6" font-weight="normal" fill="#d0d3db" text-anchor="start" textLength="12.1" lengthAdjust="spacingAndGlyphs">920</text>
<text x="979.9" y="344.1" font-size="8.6" font-weight="normal" fill="#d0d3db" text-anchor="start" textLength="12.1" lengthAdjust="spacingAndGlyphs">940</text>
<text x="979.9" y="321.1" font-size="8.6" font-weight="normal" fill="#d0d3db" text-anchor="start" textLength="12.1" lengthAdjust="spacingAndGlyphs">960</text>
<text x="979.9" y="298.1" font-size="8.6" font-weight="normal" fill="#d0d3db" text-anchor="start" textLength="12.1" lengthAdjust="spacingAndGlyphs">980</text>
<text x="980.5" y="275.1" font-size="8.6" font-weight="normal" fill="#d0d3db" text-anchor="start" textLength="15.6" lengthAdjust="spacingAndGlyphs">1000</text>
<text x="980.5" y="252.1" font-size="8.6" font-weight="normal" fill="#d0d3db" text-anchor="start" textLength="15.6" lengthAdjust="spacingAndGlyphs">1020</text>
<text x="980.5" y="229.1" font-size="8.6" font-weight="normal" fill="#d0d3db" text-anchor="start" textLength="15.6" lengthAdjust="spacingAndGlyphs">1040</text>
<text x="980.5" y="206.1" font-size="8.6" font-weight="normal" fill="#d0d3db" text-anchor="start" textLength="15.6" lengthAdjust="spacingAndGlyphs">1060</text>
<text x="980.5" y="183.1" font-size="8.6" font-weight="normal" fill="#d0d3db" text-anchor="start" textLength="15.6" lengthAdjust="spacingAndGlyphs">1080</text>
<text x="980.5" y="160.1" font-size="8.6" font-weight="normal" fill="#d0d3db" text-anchor="start" textLength="15.6" lengthAdjust="spacingAndGlyphs">1100</text>
<text x="980.5" y="137.1" font-size="8.6" font-weight="normal" fill="#d0d3db" text-anchor="start" textLength="15.6" lengthAdjust="spacingAndGlyphs">1120</text>
<text x="980.5" y="114.1" font-size="8.6" font-weight="normal" fill="#d0d3db" text-anchor="start" textLength="15.6" lengthAdjust="spacingAndGlyphs">1140</text>
<text x="980.5" y="91.1" font-size="8.6" font-weight="normal" fill="#d0d3db" text-anchor="start" textLength="15.6" lengthAdjust="spacingAndGlyphs">1160</text>
<text x="980.5" y="68.1" font-size="8.6" font-weight="normal" fill="#d0d3db" text-anchor="start" textLength="15.6" lengthAdjust="spacingAndGlyphs">1180</text>
<text x="980.5" y="45.1" font-size="8.6" font-weight="normal" fill="#d0d3db" text-anchor="start" textLength="15.6" lengthAdjust="spacingAndGlyphs">1200</text>
<text x="980.2" y="468.2" font-size="8.6" font-weight="normal" fill="#d0d3db" text-anchor="start" textLength="12.9" lengthAdjust="spacingAndGlyphs">60M</text>
<text x="980.2" y="494.9" font-size="8.6" font-weight="normal" fill="#d0d3db" text-anchor="start" textLength="12.9" lengthAdjust="spacingAndGlyphs">40M</text>
<text x="980.2" y="521.1" font-size="8.6" font-weight="normal" fill="#d0d3db" text-anchor="start" textLength="12.9" lengthAdjust="spacingAndGlyphs">20M</text>
<text x="16.33" y="556.0" font-size="8.4" font-weight="normal" fill="#d0d3db" text-anchor="start" textLength="6.9" lengthAdjust="spacingAndGlyphs">17</text>
<text x="89.20" y="556.0" font-size="8.4" font-weight="normal" fill="#d0d3db" text-anchor="start" textLength="12.5" lengthAdjust="spacingAndGlyphs">Nov</text>
<text x="153.91" y="556.0" font-size="8.4" font-weight="normal" fill="#d0d3db" text-anchor="start" textLength="6.9" lengthAdjust="spacingAndGlyphs">14</text>
<text x="240.54" y="556.0" font-size="8.4" font-weight="normal" fill="#d0d3db" text-anchor="start" textLength="12.5" lengthAdjust="spacingAndGlyphs">Dec</text>
<text x="325.88" y="556.0" font-size="8.4" font-weight="normal" fill="#d0d3db" text-anchor="start" textLength="6.9" lengthAdjust="spacingAndGlyphs">19</text>
<text x="390.37" y="556.0" font-size="8.4" font-weight="normal" fill="#d0d3db" text-anchor="start" textLength="15.5" lengthAdjust="spacingAndGlyphs">2023</text>
<text x="463.46" y="556.0" font-size="8.4" font-weight="normal" fill="#d0d3db" text-anchor="start" textLength="6.9" lengthAdjust="spacingAndGlyphs">16</text>
<text x="536.58" y="556.0" font-size="8.4" font-weight="normal" fill="#d0d3db" text-anchor="start" textLength="12" lengthAdjust="spacingAndGlyphs">Feb</text>
<text x="594.16" y="556.0" font-size="8.4" font-weight="normal" fill="#d0d3db" text-anchor="start" textLength="6.9" lengthAdjust="spacingAndGlyphs">13</text>
<text x="673.91" y="556.0" font-size="8.4" font-weight="normal" fill="#d0d3db" text-anchor="start" textLength="12.5" lengthAdjust="spacingAndGlyphs">Mar</text>
<text x="731.74" y="556.0" font-size="8.4" font-weight="normal" fill="#d0d3db" text-anchor="start" textLength="6.9" lengthAdjust="spacingAndGlyphs">13</text>
<text x="818.62" y="556.0" font-size="8.4" font-weight="normal" fill="#d0d3db" text-anchor="start" textLength="12" lengthAdjust="spacingAndGlyphs">Apr</text>
<text x="914.18" y="556.0" font-size="8.4" font-weight="normal" fill="#d0d3db" text-anchor="start" textLength="13.5" lengthAdjust="spacingAndGlyphs">May</text>
<text stroke="#d5d8e0" stroke-width="0.25" x="21.3" y="575.7" font-size="8.6" font-weight="normal" fill="#d5d8e0" text-anchor="start" textLength="43.6" lengthAdjust="spacingAndGlyphs">TradingView</text>
</g>
<g transform="translate(6.25,568.15) scale(0.345,0.36)" fill="#d5d8e0"><path d="M14 22H7V11H0V4h14v18zM28 22h-8l7.5-18h8L28 22z"/><circle cx="20" cy="8" r="4"/></g>
</svg>
</body></html>
